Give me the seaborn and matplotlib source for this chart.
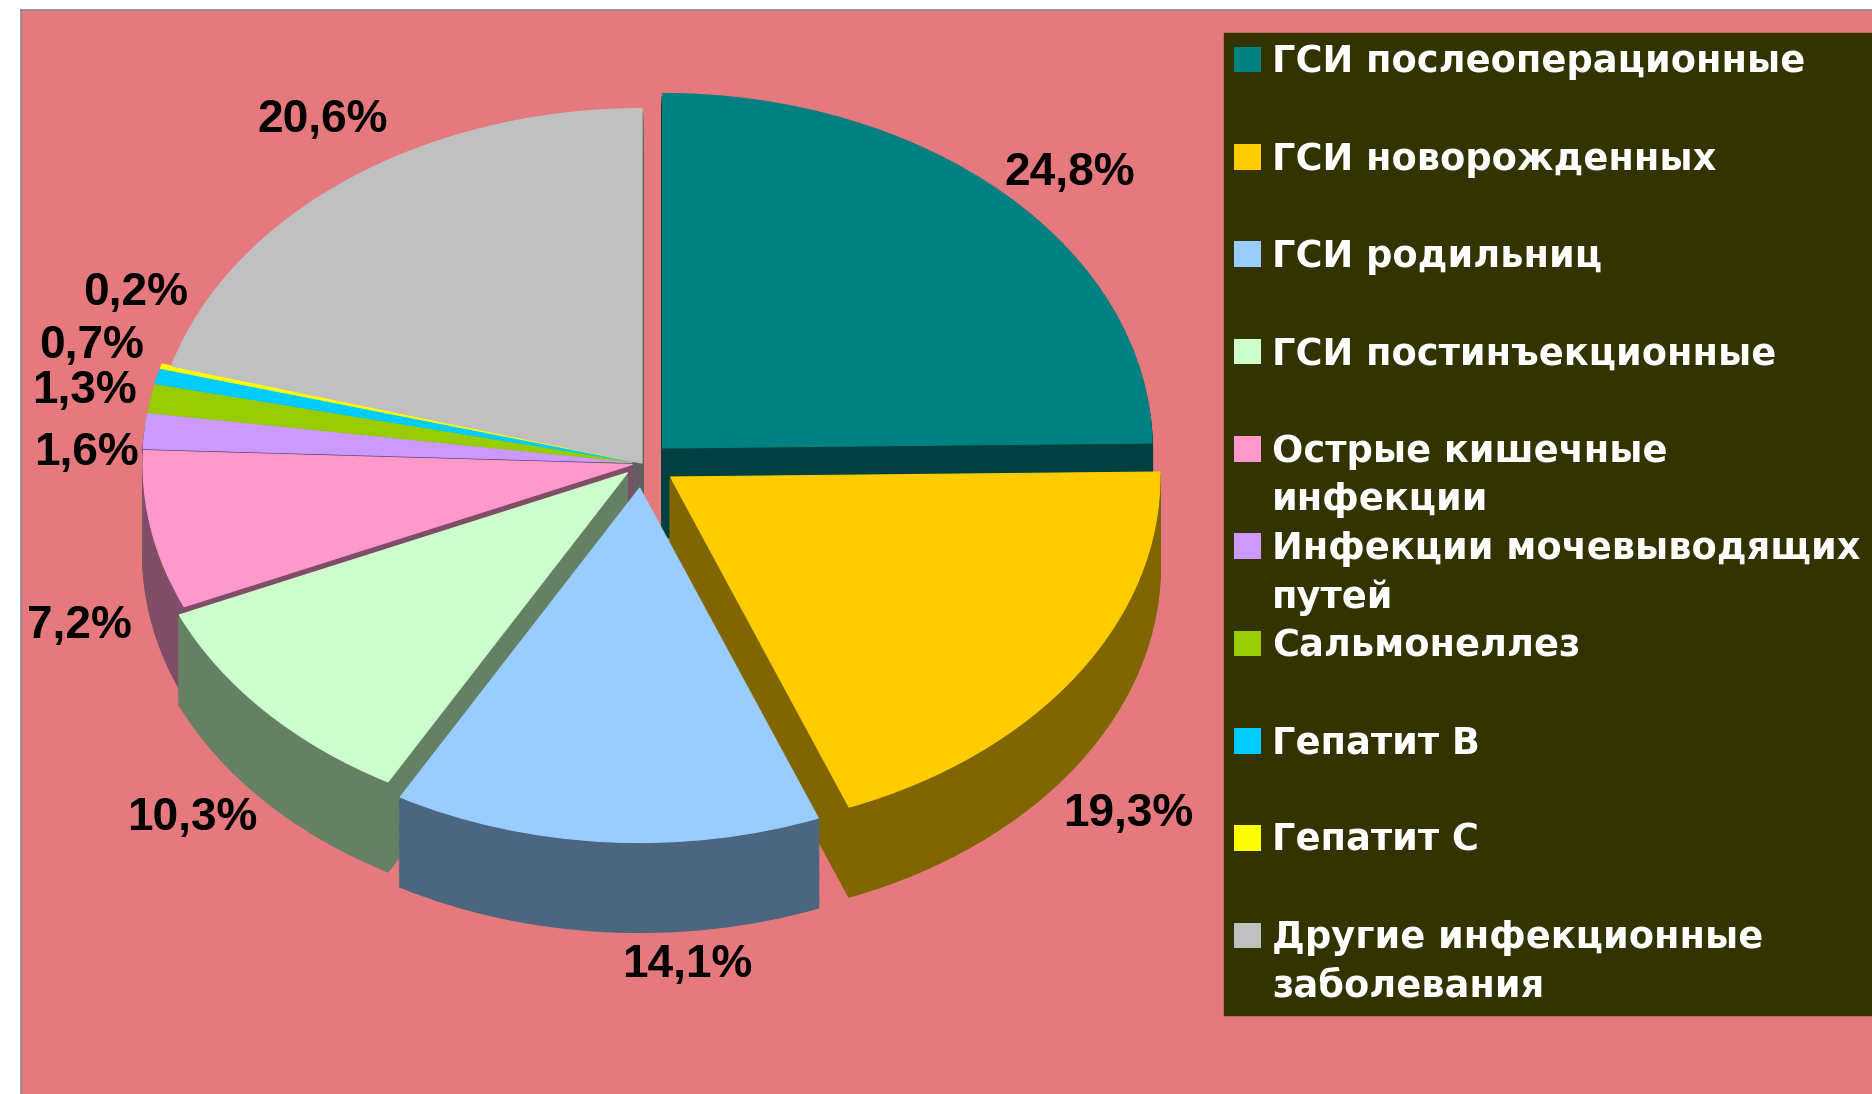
import numpy as np
import matplotlib
matplotlib.use("Agg")
import matplotlib.pyplot as plt
import matplotlib.colors as mcolors
from matplotlib.patches import Patch
import seaborn as sns

categories = ["ГСИ послеоперационные", "ГСИ новорожденных", "ГСИ родильниц",
              "ГСИ постинъекционные", "Острые кишечные\nинфекции",
              "Инфекции мочевыводящих\nпутей", "Сальмонеллез", "Гепатит В",
              "Гепатит С", "Другие инфекционные\nзаболевания"]
shares = [24.8, 19.3, 14.1, 10.3, 7.2, 1.6, 1.3, 0.7, 0.2, 20.6]
share_labels = [f"{v:.1f}%".replace(".", ",") for v in shares]

colors = ["#008080", "#FFCC00", "#99CCFF", "#CCFFCC", "#FF99CC",
          "#CC99FF", "#99CC00", "#00CCFF", "#FFFF00", "#C0C0C0"]
explode = [0.06, 0.07, 0.07, 0.04, 0.02, 0.02, 0.02, 0.02, 0.02, 0.0]
# label nudges (data units) so the labels sit where the original put them
label_nudge = [(-0.01, -0.08), (-0.06, -0.03), (0.18, 0.105), (0.0, 0.085), (0.05, 0.02),
               (0.08, -0.08), (0.06, -0.016), (0.06, 0.037), (0.14, 0.153), (0.07, 0.01)]

BG = "#E5797D"
LEGEND_BG = "#333300"
depth = 0.2525

sns.set_theme(style="white")
plt.rcParams['font.family'] = ['Liberation Sans', 'DejaVu Sans']

fig = plt.figure(figsize=(18.72, 10.94), dpi=100)
fig.patch.set_facecolor("white")
ax = fig.add_axes([21 / 1872, 0, 1 - 21 / 1872, 1 - 10 / 1094])

# side of the "3D" pie: stacked darker layers
side_colors = [tuple(np.array(mcolors.to_rgb(c)) * 0.5) for c in colors]
for d in np.linspace(depth, 0.01, 40):
    layer, _ = ax.pie(shares, colors=side_colors, explode=explode, startangle=90,
                      counterclock=False, center=(0, -d))
    for w in layer:
        w.set_edgecolor(w.get_facecolor())
        w.set_linewidth(1.5)

# top face
wedges, _ = ax.pie(shares, colors=colors, explode=explode, startangle=90,
                   counterclock=False)
for w in wedges:
    w.set_edgecolor(w.get_facecolor())
    w.set_linewidth(0.8)

for w, lab, (dx, dy) in zip(wedges, share_labels, label_nudge):
    ang = np.deg2rad((w.theta1 + w.theta2) / 2)
    x = w.center[0] + 1.2 * np.cos(ang)
    y = w.center[1] + 1.2 * np.sin(ang)
    if y < 0:
        y -= depth
    ax.text(x + dx, y + dy, lab, ha='center', va='center',
            fontsize=33, fontweight='bold', color='black')

# squash the pie into a tilted ellipse
ax.set_aspect('auto')
ax.set_xlim(-1.269, 2.513)
ax.set_ylim(-1.779, 1.278)
ax.set_frame_on(True)
ax.set_facecolor(BG)
for s in ['right', 'bottom']:
    ax.spines[s].set_visible(False)
for s in ['left', 'top']:
    ax.spines[s].set_color('#8a8a8a')
    ax.spines[s].set_linewidth(1.2)
ax.set_xticks([])
ax.set_yticks([])

# legend: every entry takes two rows, like the original layout
handles, labels = [], []
for cat, col in zip(categories, colors):
    lines = cat.split("\n") + [" "]
    handles.append(Patch(facecolor=col, edgecolor='none'))
    labels.append(lines[0])
    handles.append(Patch(facecolor='none', edgecolor='none'))
    labels.append(lines[1])

leg = fig.legend(handles, labels, loc='upper left',
                 bbox_to_anchor=(1224 / 1872, 1 - 33 / 1094, 1 - 1224 / 1872, 0),
                 mode='expand', borderaxespad=0, frameon=True,
                 prop={'family': 'DejaVu Sans', 'weight': 'bold', 'size': 26.5},
                 fancybox=False, framealpha=1, facecolor=LEGEND_BG, edgecolor=LEGEND_BG,
                 handlelength=0.72, handleheight=0.7, handletextpad=0.3,
                 labelspacing=0.317, borderpad=0.28)
for t in leg.get_texts():
    t.set_color('white')

fig.savefig("out.png", dpi=100, facecolor=fig.get_facecolor())
